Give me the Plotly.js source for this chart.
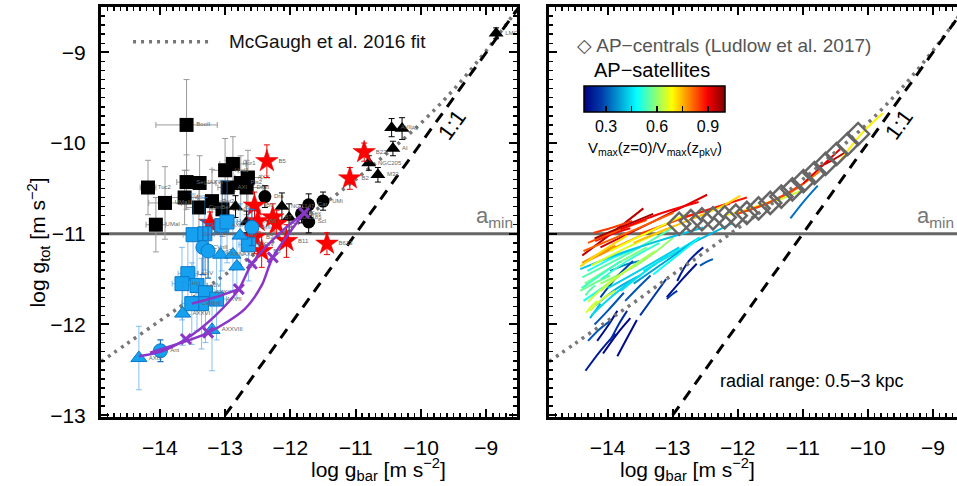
<!DOCTYPE html>
<html><head><meta charset="utf-8">
<script src="https://cdn.plot.ly/plotly-3.0.1.min.js"></script>
<style>html,body{margin:0;padding:0;background:#fff}</style>
</head><body><div id="chart" style="width:957px;height:486px"></div>
<script>
// McGaugh et al. 2016 fit
const mcgX = [-14.9,-14.5,-14.0,-13.5,-13.0,-12.5,-12.0,-11.5,-11.0,-10.5,-10.0,-9.5,-9.0,-8.5];
const mcgY = [-12.41,-12.21,-11.96,-11.71,-11.45,-11.20,-10.94,-10.68,-10.40,-10.10,-9.78,-9.41,-8.98,-8.50];
const oneX = [-13.0,-8.5];
const oneY = [-13.0,-8.5];
const aMin = -11;

// Left panel observations
const bsqX = [-13.59,-14.18,-13.59,-13.39,-13.00,-12.88,-12.96,-13.62,-13.92,-13.40,-14.06,-13.20,-12.76,-12.65,-12.67,-13.04];
const bsqY = [-9.80,-10.49,-10.43,-10.44,-10.30,-10.23,-10.49,-10.60,-10.66,-10.71,-10.90,-10.64,-10.44,-10.38,-10.49,-10.73];
const bsqEX = [0.47,0.12,0.15,0.25,0.20,0.20,0.15,0.20,0.25,0.20,0.15,0.20,0.20,0.20,0.25,0.20];
const bsqEY = [0.50,0.30,0.30,0.30,0.35,0.30,0.30,0.30,0.40,0.30,0.30,0.35,0.30,0.30,0.30,0.30];
const bsqLab = ['BooII','Tuc2','Seg1','AXVI','Hyd1','Hor1','AXI','Wil1','UMaII','ComBer','UMaI','Ret2','Pis2','AXX','DraII','CVnII'];

const bciX = [-12.39,-11.83,-11.72,-11.50,-11.72];
const bciY = [-10.59,-10.78,-10.68,-10.64,-10.87];
const bciEY = [0.12,0.10,0.12,0.10,0.12];
const bciLab = ['Dra','Sex','Car','UMi','Scl'];

const btrX = [-12.84,-12.67,-12.13,-12.02,-10.80,-10.66,-10.45,-10.29,-10.43,-8.85];
const btrY = [-10.70,-10.87,-10.70,-10.82,-10.22,-10.35,-9.83,-9.84,-10.06,-8.79];
const btrEY = [0.12,0.12,0.15,0.15,0.08,0.08,0.10,0.12,0.08,0.06];
const btrLab = ['AXV','AXXI','NGC147','NGC185','NGC205','M32','AVII','AII','AI','LMC'];

const rstX = [-12.36,-11.09,-10.87,-12.55,-12.27,-12.21,-12.50,-12.55,-12.06,-12.44,-11.44,-13.23];
const rstY = [-10.20,-10.39,-10.10,-10.69,-10.82,-10.89,-10.86,-11.04,-11.08,-11.19,-11.11,-10.88];
const rstEY = [0.18,0.12,0.10,0.15,0.15,0.15,0.12,0.18,0.18,0.18,0.12,0.12];
const rstLab = ['B5','B2','B22','B9','B7','B4','B8','B3','B11','B6','B613','B1'];

const bsqBX = [-13.49,-13.31,-13.05,-12.97,-13.57,-13.66,-13.43,-13.30,-13.13,-13.36,-13.51,-12.64];
const bsqBY = [-11.01,-11.00,-10.91,-10.87,-11.44,-11.55,-11.57,-11.65,-11.72,-11.77,-11.77,-11.12];
const bsqBEY = [0.45,0.40,0.50,0.45,0.45,0.40,0.50,0.55,0.45,0.50,0.45,0.40];
const bsqBLab = ['GruI','Psc2','AXII','HerI','LeoIV','Hyi','LeoV','AXXII','AXVII','DrII','CarII','AXXV'];

const bciBX = [-13.34,-13.26,-12.59,-13.99];
const bciBY = [-11.15,-11.19,-10.93,-12.29];
const bciBEY = [0.30,0.30,0.20,0.12];
const bciBLab = ['CVnII','Seg2','AIII','Ant'];

const btrBX = [-13.07,-12.88,-12.77,-12.82,-13.65,-14.32,-13.20];
const btrBY = [-11.23,-11.23,-11.02,-11.36,-11.88,-12.37,-12.06];
const btrBEY = [0.40,0.40,0.35,0.35,0.35,0.35,0.45];
const btrBLab = ['AXIV','AXX','AV','AIX','AXXVI','AXIX','AXXVIII'];

// Purple tracks with crosses
const pur1X = [-13.51,-13.15,-12.79];
const pur1Y = [-11.77,-11.70,-11.61];
const pur2X = [-14.32,-13.98,-13.60,-13.16,-12.79,-12.59,-12.16,-11.79];
const pur2Y = [-12.35,-12.30,-12.16,-11.91,-11.61,-11.33,-10.99,-10.77];
const pur3X = [-14.15,-13.26,-12.70,-12.44,-12.27,-11.79];
const pur3Y = [-12.31,-12.09,-11.83,-11.57,-11.26,-10.77];
const crossX = [-13.60,-13.26,-12.79,-12.59,-12.27,-11.79];
const crossY = [-12.16,-12.09,-11.61,-11.33,-11.26,-10.77];

// Right panel: AP-centrals
const cenX = [-12.90,-12.72,-12.55,-12.38,-12.20,-12.03,-11.86,-11.68,-11.50,-11.33,-11.16,-10.99,-10.82,-10.65,-10.48,-10.31,-10.15];
const cenY = [-10.89,-10.86,-10.84,-10.83,-10.82,-10.80,-10.77,-10.72,-10.66,-10.59,-10.51,-10.42,-10.33,-10.23,-10.12,-10.01,-9.90];

// Right panel: AP-satellites tracks
const satX = [
 [-14.39,-13.93,-13.45],[-14.11,-13.34,-12.47],[-14.22,-13.96,-13.62],[-14.37,-13.50,-12.99],
 [-14.31,-13.61,-12.78],[-13.50,-12.73,-12.12],[-12.84,-12.30,-11.86],[-13.96,-13.34,-12.78],
 [-12.58,-12.25,-11.96],[-14.39,-13.61,-12.99],[-14.31,-13.90,-13.50],[-14.11,-13.50,-12.99],
 [-14.42,-13.70,-12.53],[-13.19,-12.58,-12.07],[-13.45,-13.00,-12.58],[-13.96,-13.72,-13.50],
 [-14.11,-13.85,-13.61],[-12.93,-12.75,-12.53],[-13.09,-12.85,-12.63],[-12.58,-12.48,-12.38],
 [-11.19,-10.98,-10.77],[-11.86,-11.27,-10.74],[-10.78,-10.55,-10.32],[-10.43,-10.09,-9.77],
 [-11.66,-11.35,-11.04],[-14.34,-14.11,-13.88],[-14.07,-13.85,-13.65],[-14.16,-14.00,-13.85],
 [-14.30,-14.12,-13.96],[-14.27,-14.20,-14.11],[-14.33,-14.25,-14.16],[-14.34,-14.27,-14.19],
 [-13.09,-13.01,-12.93],[-13.96,-13.83,-13.70],[-14.37,-14.05,-13.73],[-14.19,-13.85,-13.50],
 [-14.27,-14.08,-13.88],[-14.42,-14.19,-13.96],[-14.11,-13.70,-13.27],[-13.80,-13.43,-13.07],
 [-13.73,-13.54,-13.34],[-14.39,-14.13,-13.88],[-14.19,-13.92,-13.65],
 [-14.30,-13.90,-13.40],[-14.20,-13.80,-13.30],[-13.80,-13.20,-12.60],[-14.25,-13.70,-13.10],
 [-13.60,-13.10,-12.50],[-14.35,-13.90,-13.40],[-14.10,-13.70,-13.20],[-14.00,-13.50,-12.90],
 [-13.60,-13.10,-12.60],[-14.40,-14.10,-13.80],[-14.30,-14.00,-13.60],[-14.25,-13.95,-13.60],
 [-14.20,-14.00,-13.75],[-13.85,-13.70,-13.55],[-13.50,-13.30,-13.10],[-11.00,-10.70,-10.40],
 [-12.20,-11.80,-11.40],[-12.00,-11.50,-11.00],[-14.42,-14.10,-13.70],[-13.30,-12.95,-12.60]
];
const satY = [
 [-11.24,-10.99,-10.72],[-11.15,-10.88,-10.57],[-10.99,-10.94,-10.86],[-11.19,-10.93,-10.77],
 [-11.30,-11.06,-10.80],[-11.00,-10.80,-10.67],[-10.82,-10.70,-10.60],[-11.19,-10.97,-10.78],
 [-10.80,-10.70,-10.58],[-11.48,-11.19,-10.93],[-11.41,-11.26,-11.15],[-11.55,-11.32,-11.04],
 [-11.39,-11.19,-10.93],[-11.30,-11.06,-10.88],[-11.41,-11.22,-11.04],[-11.41,-11.34,-11.30],
 [-11.70,-11.47,-11.30],[-11.52,-11.30,-11.15],[-11.70,-11.50,-11.33],[-11.35,-11.31,-11.28],
 [-10.83,-10.64,-10.47],[-10.75,-10.58,-10.31],[-10.27,-10.19,-10.09],[-10.20,-9.89,-9.67],
 [-10.69,-10.62,-10.53],[-12.51,-12.29,-12.10],[-12.32,-12.10,-11.93],[-12.18,-12.02,-11.85],
 [-12.18,-12.05,-11.96],[-11.93,-11.86,-11.77],[-11.87,-11.80,-11.74],[-11.68,-11.62,-11.57],
 [-11.72,-11.67,-11.63],[-12.18,-12.00,-11.85],[-11.74,-11.58,-11.41],[-11.79,-11.60,-11.46],
 [-11.85,-11.72,-11.63],[-11.63,-11.54,-11.46],[-11.63,-11.40,-11.19],[-11.63,-11.42,-11.24],
 [-11.74,-11.60,-11.46],[-11.32,-11.22,-11.13],[-11.08,-11.00,-10.94],
 [-11.10,-10.98,-10.85],[-11.05,-10.93,-10.78],[-10.95,-10.78,-10.65],[-11.35,-11.15,-10.95],
 [-11.10,-10.95,-10.78],[-11.55,-11.35,-11.15],[-11.50,-11.30,-11.10],[-11.60,-11.40,-11.15],
 [-11.55,-11.30,-11.05],[-11.60,-11.45,-11.30],[-11.75,-11.55,-11.35],[-11.90,-11.70,-11.50],
 [-12.00,-11.85,-11.65],[-12.35,-12.15,-11.95],[-11.90,-11.70,-11.50],[-10.45,-10.25,-10.05],
 [-10.80,-10.72,-10.62],[-10.78,-10.65,-10.45],[-11.36,-11.20,-11.02],[-11.45,-11.25,-11.05]
];
const satV = [0.95,0.93,0.85,0.82,0.78,0.85,0.88,0.68,0.72,0.55,0.50,0.60,0.42,0.40,0.46,0.35,
 0.28,0.22,0.20,0.30,0.33,0.80,0.95,0.70,0.65,0.22,0.18,0.20,0.30,0.40,0.65,0.55,0.27,0.25,
 0.50,0.40,0.65,0.57,0.62,0.45,0.30,0.78,0.90,
 0.83,0.97,0.90,0.66,0.74,0.58,0.52,0.43,0.38,0.53,0.64,0.44,0.30,0.19,0.26,0.92,0.70,0.85,0.72,0.48];
const cMin = 0.17, cMax = 1.0;
const cbTicks = [0.3,0.45,0.6,0.75,0.9];
const cbTickText = ['0.3','','0.6','','0.9'];

const jetStops = [[0,[0,0,131]],[0.125,[0,60,170]],[0.375,[5,255,255]],[0.625,[255,255,0]],[0.875,[250,0,0]],[1,[128,0,0]]];
function jet(v){
  let t = Math.max(0, Math.min(1, (v - cMin)/(cMax - cMin)));
  for (let i=1;i<jetStops.length;i++){
    if (t <= jetStops[i][0]){
      const a = jetStops[i-1], b = jetStops[i];
      const f = (t - a[0])/(b[0]-a[0]);
      const c = a[1].map((q,k)=>Math.round(q + f*(b[1][k]-q)));
      return 'rgb('+c.join(',')+')';
    }
  }
  return 'rgb(128,0,0)';
}

const FONT = 'Liberation Sans, Arial, Helvetica, sans-serif';
const dotted = '3px,5px';
const dashed = '11px,8px';
const traces = [];
const tiny = {size:6, color:'#666', family:FONT};

// ---- left panel ----
traces.push({x:mcgX, y:mcgY, xaxis:'x', yaxis:'y', mode:'lines', line:{color:'#777', width:3.5, dash:dotted, shape:'spline'}});
traces.push({x:oneX, y:oneY, xaxis:'x', yaxis:'y', mode:'lines', line:{color:'#000', width:3, dash:dashed}});

const greyErr = {color:'#9a9a9a', thickness:1, width:3};
traces.push({x:bsqX, y:bsqY, xaxis:'x', yaxis:'y', mode:'markers+text', text:bsqLab, textposition:'middle right', textfont:tiny,
  error_x:Object.assign({type:'data', array:bsqEX}, greyErr), error_y:Object.assign({type:'data', array:bsqEY}, greyErr),
  marker:{symbol:'square', size:14, color:'#000'}});
traces.push({x:bciX, y:bciY, xaxis:'x', yaxis:'y', mode:'markers+text', text:bciLab, textposition:'middle right', textfont:tiny,
  error_y:{type:'data', array:bciEY, color:'#000', thickness:1, width:3},
  marker:{symbol:'circle', size:13, color:'#000'}});
traces.push({x:btrX, y:btrY, xaxis:'x', yaxis:'y', mode:'markers+text', text:btrLab, textposition:'middle right', textfont:tiny,
  error_y:{type:'data', array:btrEY, color:'#000', thickness:1, width:3},
  marker:{symbol:'triangle-up', size:13, color:'#000'}});
traces.push({x:rstX, y:rstY, xaxis:'x', yaxis:'y', mode:'markers+text', text:rstLab, textposition:'middle right', textfont:tiny,
  error_y:{type:'data', array:rstEY, color:'#e00', thickness:1, width:3},
  marker:{symbol:'star', size:17, color:'#f00', line:{color:'#d00', width:0.5}}});

const blueErr = {color:'rgba(40,140,230,0.55)', thickness:1, width:3};
traces.push({x:bsqBX, y:bsqBY, xaxis:'x', yaxis:'y', mode:'markers+text', text:bsqBLab, textposition:'middle right', textfont:tiny,
  error_y:Object.assign({type:'data', array:bsqBEY}, blueErr), error_x:Object.assign({type:'constant', value:0.15}, blueErr),
  marker:{symbol:'square', size:14, color:'#15a0f0', line:{color:'#0a78c8', width:1}}});
traces.push({x:bciBX, y:bciBY, xaxis:'x', yaxis:'y', mode:'markers+text', text:bciBLab, textposition:'middle right', textfont:tiny,
  error_y:{type:'data', array:bciBEY, color:'#1a70c0', thickness:1.2, width:3},
  marker:{symbol:'circle', size:14, color:'#15a0f0', line:{color:'#0a78c8', width:1}}});
traces.push({x:btrBX, y:btrBY, xaxis:'x', yaxis:'y', mode:'markers+text', text:btrBLab, textposition:'middle right', textfont:tiny,
  error_y:Object.assign({type:'data', array:btrBEY}, blueErr),
  marker:{symbol:'triangle-up', size:14, color:'#15a0f0', line:{color:'#0a78c8', width:1}}});

const purple = '#8a36c8';
[[pur1X,pur1Y],[pur2X,pur2Y],[pur3X,pur3Y]].forEach(p=>{
  traces.push({x:p[0], y:p[1], xaxis:'x', yaxis:'y', mode:'lines', line:{color:purple, width:2.5, shape:'spline', smoothing:0.8}});
});
traces.push({x:crossX, y:crossY, xaxis:'x', yaxis:'y', mode:'markers', marker:{symbol:'x-thin', size:10, color:purple, line:{color:purple, width:3}}});

// ---- right panel ----
for (let i=0;i<satX.length;i++){
  traces.push({x:satX[i], y:satY[i], xaxis:'x2', yaxis:'y2', mode:'lines', line:{color:jet(satV[i]), width:2, shape:'spline'}});
}
traces.push({x:[-20], y:[-20], xaxis:'x2', yaxis:'y2', mode:'markers',
  marker:{color:[0.5], cmin:cMin, cmax:cMax, colorscale:'Jet', showscale:true, opacity:0,
    colorbar:{orientation:'h', x:0.6466, xanchor:'center', y:0.807, yanchor:'top', len:141, lenmode:'pixels',
      thickness:26, thicknessmode:'pixels', outlinewidth:1.5, outlinecolor:'#000', xpad:0, ypad:0,
      tickvals:cbTicks, ticktext:cbTickText, ticks:'inside', ticklen:6, tickwidth:1.5, tickcolor:'#000',
      tickfont:{size:16, family:FONT, color:'#000'}}}});
traces.push({x:mcgX, y:mcgY, xaxis:'x2', yaxis:'y2', mode:'lines', line:{color:'#777', width:3.5, dash:dotted, shape:'spline'}});
traces.push({x:oneX, y:oneY, xaxis:'x2', yaxis:'y2', mode:'lines', line:{color:'#000', width:3, dash:dashed}});
traces.push({x:cenX, y:cenY, xaxis:'x2', yaxis:'y2', mode:'markers', marker:{symbol:'diamond-open', size:17, color:'#666', line:{color:'#666', width:2.5}}});

function xax(domain, range, anchor){
  return {domain:domain, range:range, anchor:anchor, showgrid:false, zeroline:false,
    showline:true, linewidth:3, linecolor:'#000', mirror:'allticks', ticks:'inside', ticklen:8, tickwidth:2, tickcolor:'#000',
    tick0:0, dtick:1, minor:{dtick:0.1, ticks:'inside', ticklen:4, tickwidth:1.5, tickcolor:'#000'},
    tickfont:{size:21, family:FONT, color:'#000'}, ticklabelstandoff:10};
}
const ann = [];
function annot(o){ ann.push(Object.assign({showarrow:false, yanchor:'middle', font:{family:FONT, size:21, color:'#000'}}, o)); }
annot({xref:'paper', yref:'paper', x:-0.0923, y:0.427, text:'log g<sub>tot</sub> [m s<sup>−2</sup>]', textangle:-90});
annot({xref:'paper', yref:'paper', x:0.243, y:-0.129, text:'log g<sub>bar</sub> [m s<sup>−2</sup>]'});
annot({xref:'paper', yref:'paper', x:0.766, y:-0.129, text:'log g<sub>bar</sub> [m s<sup>−2</sup>]'});
annot({xref:'x', yref:'y', x:-8.56, y:aMin, xanchor:'right', yanchor:'bottom', yshift:1, text:'a<sub>min</sub>', font:{family:FONT, size:22, color:'#777'}});
annot({xref:'x2', yref:'y2', x:-8.65, y:aMin, xanchor:'right', yanchor:'bottom', yshift:1, text:'a<sub>min</sub>', font:{family:FONT, size:22, color:'#777'}});
annot({xref:'x', yref:'y', x:-9.52, y:-9.80, text:'1:1', textangle:-54, font:{family:FONT, size:22, color:'#000'}});
annot({xref:'x2', yref:'y2', x:-9.52, y:-9.80, text:'1:1', textangle:-54, font:{family:FONT, size:22, color:'#000'}});
annot({xref:'x domain', yref:'y domain', x:0.303, y:0.915, xanchor:'left', text:'McGaugh et al. 2016 fit', font:{family:FONT, size:19, color:'#111'}});
annot({xref:'x2 domain', yref:'y2 domain', x:0.064, y:0.907, xanchor:'left', text:'◇ AP−centrals (Ludlow et al. 2017)', font:{family:FONT, size:19, color:'#555'}});
annot({xref:'x2 domain', yref:'y2 domain', x:0.105, y:0.846, xanchor:'left', text:'AP−satellites', font:{family:FONT, size:20, color:'#000'}});
annot({xref:'paper', yref:'paper', x:0.647, y:0.656, text:'V<sub>max</sub>(z=0)/V<sub>max</sub>(z<sub>pkV</sub>)', font:{family:FONT, size:15, color:'#000'}});
annot({xref:'x2', yref:'y2', x:-12.30, y:-12.62, xanchor:'left', text:'radial range: 0.5−3 kpc', font:{family:FONT, size:18, color:'#000'}});

const layout = {
  width:957, height:486, margin:{l:101, r:0, t:7, b:69}, showlegend:false,
  paper_bgcolor:'#fff', plot_bgcolor:'#fff', font:{family:FONT, color:'#000'},
  xaxis: xax([0,0.486], [-14.9,-8.53], 'y'),
  xaxis2: xax([0.5234,1], [-14.9,-8.63], 'y2'),
  yaxis: Object.assign(xax([0,1], [-13.02,-8.5], 'x'), {ticklabelstandoff:8}),
  yaxis2: Object.assign(xax([0,1], [-13.02,-8.5], 'x2'), {showticklabels:false, mirror:false}),
  shapes:[
    {type:'line', xref:'x domain', yref:'y', x0:0, x1:1, y0:aMin, y1:aMin, line:{color:'#666', width:3}, layer:'below'},
    {type:'line', xref:'x2 domain', yref:'y2', x0:0, x1:1, y0:aMin, y1:aMin, line:{color:'#666', width:3}, layer:'below'},
    {type:'line', xref:'x domain', yref:'y domain', x0:0.077, x1:0.269, y0:0.915, y1:0.915, line:{color:'#777', width:3.5, dash:dotted}}
  ],
  annotations: ann
};
Plotly.newPlot('chart', traces, layout, {staticPlot:true, displayModeBar:false});
</script>
</body></html>
